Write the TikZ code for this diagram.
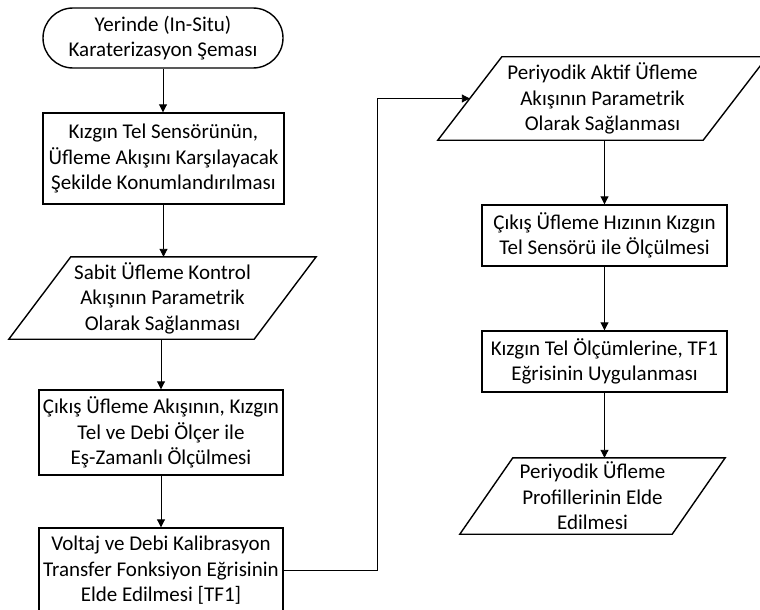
\documentclass[tikz,border=0pt]{standalone}
\usepackage{fontspec}
\setmainfont{Carlito}
\usetikzlibrary{arrows.meta}
\begin{document}
\begin{tikzpicture}[x=1pt,y=-1pt,
  txt/.style={align=center, inner sep=0pt, font=\fontsize{21}{25.5}\selectfont},
  shp/.style={txt, draw=black, line width=1.4pt},
  procbox/.style={shp, rectangle},
  term/.style={shp, rectangle, rounded corners=30pt},
  outline/.style={draw=black, line width=1.4pt},
  conn/.style={line width=0.9pt, -{Triangle[length=8pt,width=8pt]}}
]
\clip (0,0) rectangle (760,610);
\fill[white] (0,0) rectangle (760,610);

% left column
\node[term, minimum width=240pt, minimum height=60pt] (t) at (163,38)
  {Yerinde (In-Situ)\\Karaterizasyon Şeması};
\node[procbox, minimum width=241pt, minimum height=91pt] (b1) at (163.5,158.5)
  {Kızgın Tel Sensörünün,\\Üfleme Akışını Karşılayacak\\Şekilde Konumlandırılması};
\node[txt, minimum width=245pt, minimum height=82pt] (p1) at (162.5,298)
  {Sabit Üfleme Kontrol\\Akışının Parametrik\\Olarak Sağlanması};
\draw[outline] ([xshift=-31pt]p1.south west) -- ([xshift=-31pt]p1.south east)
  -- ([xshift=31pt]p1.north east) -- ([xshift=31pt]p1.north west) -- cycle;
\node[procbox, minimum width=244pt, minimum height=85pt] (b2) at (161,432.5)
  {Çıkış Üfleme Akışının, Kızgın\\Tel ve Debi Ölçer ile\\Eş-Zamanlı Ölçülmesi};
\node[procbox, minimum width=244pt, minimum height=85pt] (b3) at (161,570.5)
  {Voltaj ve Debi Kalibrasyon\\Transfer Fonksiyon Eğrisinin\\Elde Edilmesi [TF1]};

% right column
\node[txt, minimum width=265pt, minimum height=83pt] (p2) at (602.5,98.5)
  {Periyodik Aktif Üfleme\\Akışının Parametrik\\Olarak Sağlanması};
\draw[outline] ([xshift=-32pt]p2.south west) -- ([xshift=-32pt]p2.south east)
  -- ([xshift=32pt]p2.north east) -- ([xshift=32pt]p2.north west) -- cycle;
\node[procbox, minimum width=245pt, minimum height=61pt] (b4) at (604.5,235.5)
  {Çıkış Üfleme Hızının Kızgın\\Tel Sensörü ile Ölçülmesi};
\node[procbox, minimum width=245pt, minimum height=61pt] (b5) at (604.5,361.5)
  {Kızgın Tel Ölçümlerine, TF1\\Eğrisinin Uygulanması};
\node[txt, minimum width=212pt, minimum height=76pt] (p3) at (592.5,496)
  {Periyodik Üfleme\\Profillerinin Elde\\Edilmesi};
\draw[outline] ([xshift=-26.5pt]p3.south west) -- ([xshift=-26.5pt]p3.south east)
  -- ([xshift=26.5pt]p3.north east) -- ([xshift=26.5pt]p3.north west) -- cycle;

% connectors
\draw[conn] (t.south) -- (t.south |- b1.north);
\draw[conn] (b1.south) -- (b1.south |- p1.north);
\draw[conn] (p1.south -| b2.north) -- (b2.north);
\draw[conn] (b2.south) -- (b3.north);
\draw[conn] (b3.east) -- ++(94,0) |- (p2.west);
\draw[conn] (b4.north |- p2.south) -- (b4.north);
\draw[conn] (b4.south) -- (b5.north);
\draw[conn] (b5.south) -- (b5.south |- p3.north);
\end{tikzpicture}
\end{document}
